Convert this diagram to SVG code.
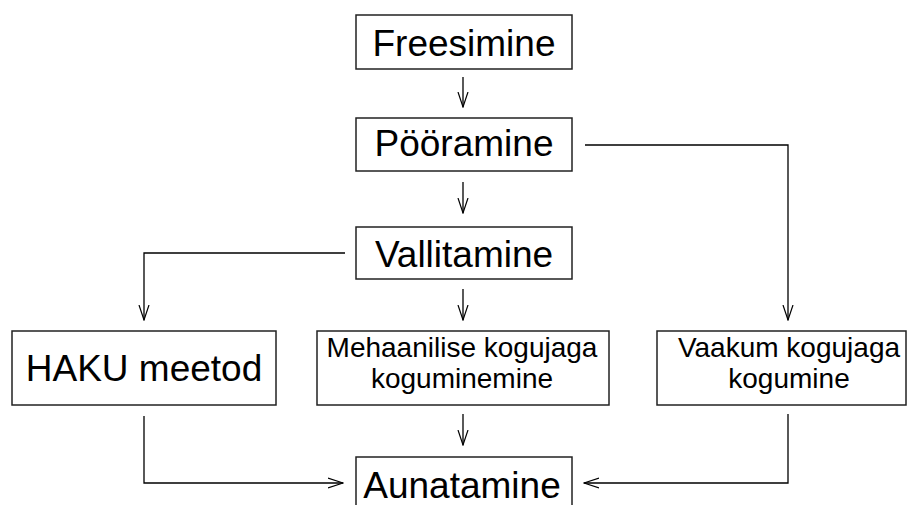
<svg xmlns="http://www.w3.org/2000/svg" width="908" height="505" viewBox="0 0 908 505">
<style>
.box{fill:#fff;stroke:#222;stroke-width:1.5}
.t{font-family:"Liberation Sans",Arial,sans-serif;fill:#000;text-anchor:middle}
.big{font-size:37px}
.small{font-size:28px}
.c{fill:none;stroke:#000;stroke-width:1.3}
</style>
<defs>
<marker id="a" viewBox="0 0 16 12" refX="15" refY="6" markerWidth="16" markerHeight="12" markerUnits="userSpaceOnUse" orient="auto">
<path d="M0,1 L15,6 L0,11" fill="none" stroke="#000" stroke-width="1.2"/>
</marker>
</defs>
<rect width="908" height="505" fill="#fff"/>
<g id="connectors">
<path class="c" d="M463,77 V107" marker-end="url(#a)"/>
<path class="c" d="M463,182 V213" marker-end="url(#a)"/>
<path class="c" d="M585,145 H788 V320" marker-end="url(#a)"/>
<path class="c" d="M345,253 H144 V320" marker-end="url(#a)"/>
<path class="c" d="M463,289 V320" marker-end="url(#a)"/>
<path class="c" d="M463,414 V445" marker-end="url(#a)"/>
<path class="c" d="M144,416 V483 H343" marker-end="url(#a)"/>
<path class="c" d="M788,414 V483 H584" marker-end="url(#a)"/>
</g>
<g id="freesimine"><rect class="box" x="356" y="15" width="216" height="54"/><text class="t big" x="464" y="56">Freesimine</text></g>
<g id="pooramine"><rect class="box" x="356" y="118" width="216" height="53"/><text class="t big" x="464" y="156">Pööramine</text></g>
<g id="vallitamine"><rect class="box" x="356" y="227" width="216" height="52"/><text class="t big" x="464" y="267">Vallitamine</text></g>
<g id="haku"><rect class="box" x="12" y="331" width="264" height="74"/><text class="t big" x="144" y="381">HAKU meetod</text></g>
<g id="mehaanilise"><rect class="box" x="317" y="331" width="292" height="74"/><text class="t small" x="462" y="357">Mehaanilise kogujaga</text><text class="t small" x="462" y="388">koguminemine</text></g>
<g id="vaakum"><rect class="box" x="657" y="331" width="249" height="74"/><text class="t small" x="789" y="357">Vaakum kogujaga</text><text class="t small" x="789" y="388">kogumine</text></g>
<g id="aunatamine"><rect class="box" x="356" y="457" width="216" height="60"/><text class="t big" x="462" y="498">Aunatamine</text></g>
</svg>
